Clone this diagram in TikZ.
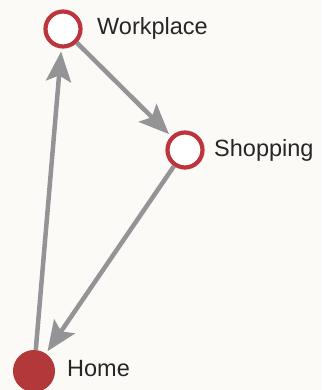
\documentclass[tikz,border=0pt]{standalone}
\usepackage{fontspec}
\setmainfont{Liberation Sans}
\usetikzlibrary{arrows.meta}
\definecolor{ringred}{RGB}{188,52,60}
\definecolor{homered}{RGB}{178,56,58}
\definecolor{arrgray}{RGB}{148,148,150}
\definecolor{paper}{RGB}{251,250,247}
\begin{document}
\begin{tikzpicture}[x=1pt,y=1pt,
  place/.style={circle, draw=ringred, line width=4.2pt, fill=white, minimum size=35pt, inner sep=0pt},
  homeplace/.style={circle, draw=homered, fill=homered, line width=1pt, minimum size=41pt, inner sep=0pt},
  lbl/.style={inner sep=0pt, anchor=base west, font=\fontsize{23.5}{28}\selectfont, text=black!85},
  arr/.style={draw=arrgray, line width=4.5pt, -{Stealth[length=30pt,width=25pt,inset=6pt]}, shorten >=3pt}
]
\fill[paper] (0,0) rectangle (322,390);
\useasboundingbox (0,0) rectangle (322,390);
\node[place] (work) at (63,361) {};
\node[place] (shop) at (185,240) {};
\node[homeplace] (home) at (34,19) {};
\node[lbl] (wl) at (97,355) {Workplace};
\node[lbl] (sl) at (214,233) {Shopping};
\node[lbl] (hl) at (67,13) {Home};
\draw[arr] (home) -- (work);
\draw[arr] (work) -- (shop);
\draw[arr] (shop) -- (home);
\end{tikzpicture}
\end{document}
